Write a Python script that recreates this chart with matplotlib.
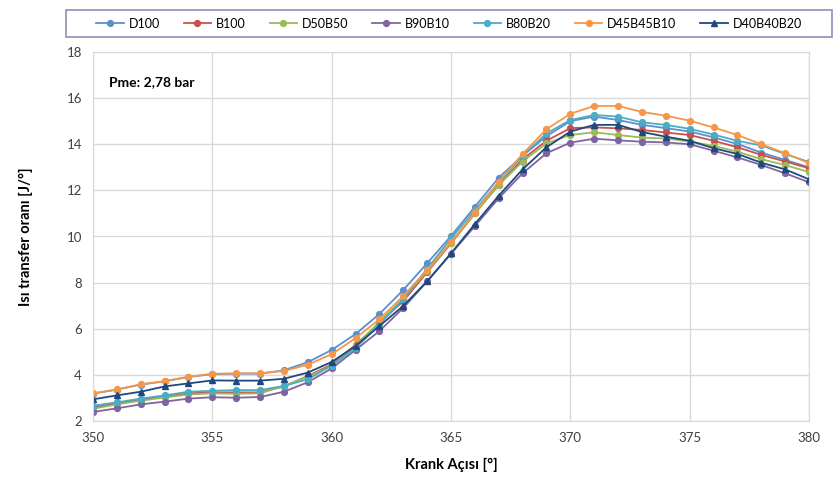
import matplotlib
matplotlib.use("Agg")
import matplotlib.pyplot as plt
from matplotlib.patches import Rectangle

plt.rcParams['font.family'] = ['Lato', 'DejaVu Sans']

angles = list(range(350, 381))

d100 = [3.19, 3.36, 3.58, 3.72, 3.91, 4.03, 4.05, 4.05, 4.2, 4.55, 5.08, 5.77, 6.64, 7.68, 8.84,
        10.02, 11.29, 12.55, 13.5, 14.35, 15.0, 15.2, 15.05, 14.84, 14.7, 14.55, 14.3, 14.01, 13.64, 13.32, 13.0]
b100 = [2.58, 2.77, 2.92, 3.06, 3.2, 3.24, 3.24, 3.24, 3.5, 3.95, 4.45, 5.3, 6.25, 7.2, 8.45,
        9.7, 11.0, 12.25, 13.35, 14.15, 14.7, 14.73, 14.69, 14.62, 14.51, 14.4, 14.15, 13.87, 13.54, 13.25, 12.96]
d50b50 = [2.53, 2.72, 2.88, 3.02, 3.15, 3.2, 3.18, 3.2, 3.52, 3.92, 4.4, 5.25, 6.3, 7.3, 8.5,
          9.72, 11.0, 12.23, 13.25, 14.04, 14.4, 14.52, 14.4, 14.29, 14.25, 14.12, 13.93, 13.68, 13.35, 13.1, 12.79]
b90b10 = [2.39, 2.55, 2.72, 2.84, 2.97, 3.03, 3.01, 3.04, 3.27, 3.68, 4.28, 5.08, 5.9, 6.9, 8.05,
          9.25, 10.45, 11.66, 12.74, 13.61, 14.07, 14.24, 14.17, 14.11, 14.08, 14.0, 13.72, 13.43, 13.1, 12.74, 12.35]
b80b20 = [2.66, 2.81, 2.97, 3.11, 3.27, 3.31, 3.34, 3.34, 3.52, 3.81, 4.4, 5.15, 6.2, 7.28, 8.6,
          9.92, 11.15, 12.35, 13.5, 14.47, 15.05, 15.27, 15.2, 14.95, 14.84, 14.67, 14.42, 14.15, 13.95, 13.58, 13.23]
d45b45b10 = [3.2, 3.37, 3.59, 3.73, 3.92, 4.05, 4.07, 4.07, 4.17, 4.44, 4.9, 5.59, 6.41, 7.42, 8.55,
             9.76, 11.05, 12.38, 13.58, 14.65, 15.32, 15.66, 15.66, 15.4, 15.24, 15.02, 14.73, 14.4, 14.0, 13.61, 13.18]
d40b40b20 = [2.94, 3.11, 3.27, 3.5, 3.63, 3.76, 3.75, 3.75, 3.83, 4.1, 4.56, 5.25, 6.12, 6.99, 8.06,
             9.27, 10.54, 11.77, 12.91, 13.87, 14.55, 14.84, 14.84, 14.53, 14.33, 14.15, 13.83, 13.58, 13.2, 12.91, 12.48]

labels = ["D100", "B100", "D50B50", "B90B10", "B80B20", "D45B45B10", "D40B40B20"]
series = [d100, b100, d50b50, b90b10, b80b20, d45b45b10, d40b40b20]
colors = ["#5B8FCF", "#C9504D", "#9BBB59", "#8064A2", "#4BACC6", "#F79646", "#1F497D"]
markers = ["o", "o", "o", "o", "o", "o", "^"]

fig = plt.figure(figsize=(8.34, 4.86), dpi=100)
ax = fig.add_axes([93/834, 1-421/486, (809-93)/834, (421-52)/486])

for lab, ys, c, m in zip(labels, series, colors, markers):
    ax.plot(angles, ys, color=c, marker=m, markersize=4.2, linewidth=1.3, label=lab)

ax.set_xlim(350, 380)
ax.set_ylim(2, 18)
ax.set_xticks(range(350, 381, 5))
ax.set_yticks(range(2, 19, 2))
ax.grid(True, color="#D9D9D9", linewidth=1)
ax.set_axisbelow(True)
for s in ax.spines.values():
    s.set_color("#D9D9D9")
ax.tick_params(length=0, labelsize=9.5, colors="#404040", pad=8)

ax.set_xlabel("Krank Açısı [°]", fontsize=10.5, fontweight="bold", labelpad=10)
ax.set_ylabel("Isı transfer oranı [J/°]", fontsize=10.5, fontweight="bold", labelpad=24)
ax.text(0.022, 0.935, "Pme: 2,78 bar", transform=ax.transAxes, fontsize=10,
        fontweight="bold", va="top", ha="left")

# legend frame
fig.patches.append(Rectangle((66/834, 1-37/486), (832-66)/834, 27/486,
                             transform=fig.transFigure, fill=False,
                             edgecolor="#9C88BC", linewidth=1.2))
leg = fig.legend(loc="center", ncol=7, bbox_to_anchor=(449/834, 1-23.5/486),
                 fontsize=9, frameon=False, columnspacing=1.9,
                 handlelength=2.2, handletextpad=0.4)

fig.savefig("out.png", dpi=100)
